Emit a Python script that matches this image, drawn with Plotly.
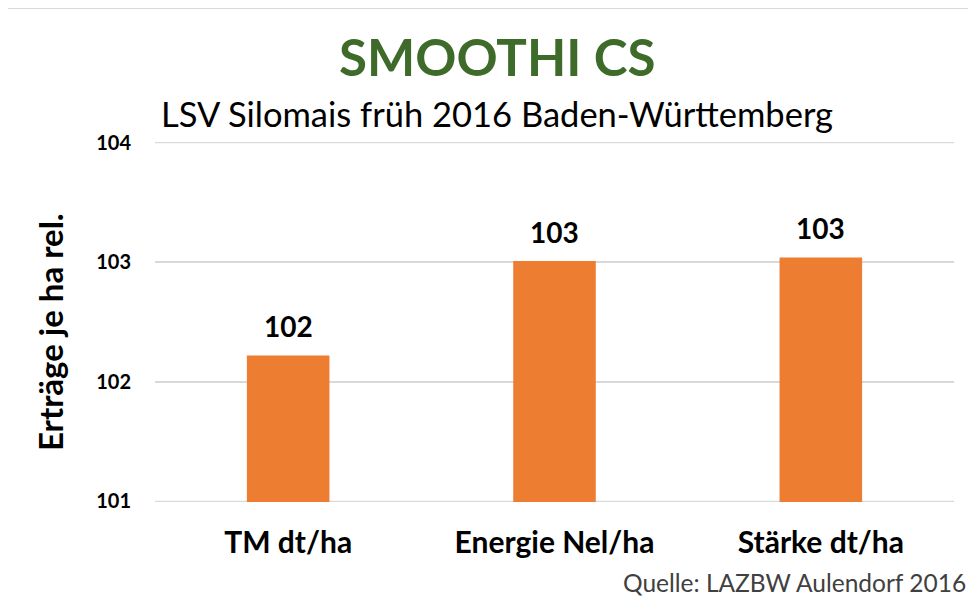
import plotly.graph_objects as go

categories = ["TM dt/ha", "Energie Nel/ha", "Stärke dt/ha"]
values = [102.22, 103.01, 103.04]
y_ticks = [101, 102, 103, 104]
title_text = "SMOOTHI CS"
subtitle_text = "LSV Silomais früh 2016 Baden-Württemberg"
y_title = "Erträge je ha rel."
source_text = "Quelle: LAZBW Aulendorf 2016"

FONT = "Lato"
OFF = 8  # page body margin
W, H = 976 - OFF, 598 - OFF
L, R, T, B = 147, 22, 134, 96
pw, ph = W - L - R, H - T - B

def px_x(x):
    return (x - OFF - L) / pw

def px_y(y):
    return (H - B - (y - OFF)) / ph

fig = go.Figure()
fig.add_trace(go.Bar(
    x=categories, y=values,
    marker=dict(color="#ED7D31", line=dict(width=0)),
    hoverinfo="skip",
))

annotations = []
for c, v in zip(categories, values):
    annotations.append(dict(
        x=c, y=v, xref="x", yref="y", text=f"{v:.0f}", showarrow=False,
        yanchor="bottom", yshift=10,
        font=dict(family=FONT, size=28, color="#000000", weight="bold"),
    ))

annotations += [
    dict(x=px_x(497), y=px_y(57), xref="paper", yref="paper", text=f"<b>{title_text}</b>",
         showarrow=False, xanchor="center", yanchor="middle",
         font=dict(family=FONT, size=51, color="#3E6B2A")),
    dict(x=px_x(497), y=px_y(113), xref="paper", yref="paper", text=subtitle_text,
         showarrow=False, xanchor="center", yanchor="middle",
         font=dict(family=FONT, size=34.5, color="#000000")),
    dict(x=px_x(50), y=px_y(332), xref="paper", yref="paper", text=f"<b>{y_title}</b>",
         showarrow=False, xanchor="center", yanchor="middle", textangle=-90,
         font=dict(family=FONT, size=33, color="#000000")),
    dict(x=px_x(968), y=px_y(582), xref="paper", yref="paper", text=source_text,
         showarrow=False, xanchor="right", yanchor="middle",
         font=dict(family=FONT, size=24.5, color="#404040")),
]

shapes = [
    dict(type="line", xref="paper", yref="paper", x0=px_x(6), x1=px_x(990), y0=px_y(8), y1=px_y(8),
         line=dict(color="#D9D9D9", width=2)),
    dict(type="line", xref="paper", yref="paper", x0=px_x(6), x1=px_x(6), y0=px_y(8), y1=px_y(610),
         line=dict(color="#D9D9D9", width=2)),
]
# edge gridlines (plotly skips grid lines lying on the plot-area border)
for t in (y_ticks[0], y_ticks[-1]):
    shapes.append(dict(type="line", xref="paper", yref="y", x0=0, x1=1, y0=t, y1=t,
                       layer="below", line=dict(color="#D9D9D9", width=1.5)))

fig.update_layout(
    width=W, height=H,
    margin=dict(l=L, r=R, t=T, b=B),
    paper_bgcolor="white", plot_bgcolor="white",
    bargap=0.69,
    showlegend=False,
    annotations=annotations,
    shapes=shapes,
    font=dict(family=FONT),
)
fig.update_xaxes(
    showgrid=False, showline=False, zeroline=False,
    tickfont=dict(family=FONT, size=30, color="#000000", weight="bold"),
    ticklabelstandoff=20,
)
fig.update_yaxes(
    range=[100.995, 104.005], tickvals=y_ticks, ticktext=[str(t) for t in y_ticks],
    showgrid=True, gridcolor="#D9D9D9", gridwidth=1.5,
    zeroline=False, showline=False,
    tickfont=dict(family=FONT, size=20, color="#000000", weight="bold"),
    ticklabelstandoff=23,
)

fig.write_html("out.html")
